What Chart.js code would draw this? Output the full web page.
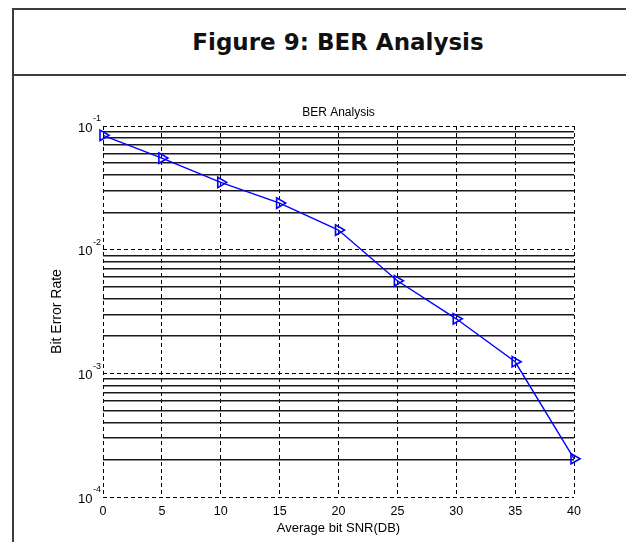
<!DOCTYPE html>
<html>
<head>
<meta charset="utf-8">
<script src="https://cdn.jsdelivr.net/npm/chart.js@4"></script>
<style>
  html, body { margin: 0; padding: 0; background: #fff; width: 626px; height: 542px; overflow: hidden; }
  #box { position: absolute; left: 12px; top: 8px; width: 650px; height: 600px;
         border-left: 2px solid #3c3c3c; border-top: 2px solid #3c3c3c; }
  #sep { position: absolute; left: 12px; top: 74px; width: 650px; height: 2px; background: #3c3c3c; }
  #head { position: absolute; left: 13px; top: 10px; width: 650px; height: 64px;
          text-align: center; font: bold 23px "DejaVu Sans", Verdana, sans-serif; line-height: 64px; color: #111; }
  #wrap { position: absolute; left: 20px; top: 78px; width: 590px; height: 464px; }
</style>
</head>
<body>
<div id="box"></div>
<div id="sep"></div>
<div id="head">Figure 9: BER Analysis</div>
<div id="wrap"><canvas id="myChart" width="590" height="464"></canvas></div>
<script>
const snr = [0, 5, 10, 15, 20, 25, 30, 35, 40];
const ber = [0.084, 0.055, 0.035, 0.0238, 0.0144, 0.0056, 0.00276, 0.00124, 0.000204];

const xTicks = [0, 5, 10, 15, 20, 25, 30, 35, 40];
const yDecades = [-4, -3, -2, -1];
const yMinor = [2, 3, 4, 5, 6, 7, 8, 9];

const FONT = '"Liberation Sans", Arial, sans-serif';

const isDecade = (v) => Math.abs(Math.log10(v) - Math.round(Math.log10(v))) < 1e-6;

// y tick labels drawn as 10 with a raised exponent
const powerLabels = {
  id: "powerLabels",
  afterDraw(chart) {
    const y = chart.scales.y;
    const c = chart.ctx;
    c.save();
    c.fillStyle = "#000";
    c.textBaseline = "middle";
    yDecades.forEach((e) => {
      const py = y.getPixelForValue(Math.pow(10, e));
      const exp = String(e);
      c.font = "9px " + FONT;
      const ew = c.measureText(exp).width;
      const right = chart.chartArea.left - 2;
      c.textAlign = "right";
      c.fillText(exp, right, py - 7);
      c.font = "13px " + FONT;
      c.fillText("10", right - ew - 0.5, py + 2);
    });
    c.restore();
  },
};

const ctx = document.getElementById("myChart").getContext("2d");

new Chart(ctx, {
  type: "line",
  data: {
    labels: snr,
    datasets: [
      {
        data: snr.map((x, i) => ({ x: x, y: ber[i] })),
        borderColor: "#0000ff",
        borderWidth: 1.4,
        pointStyle: "triangle",
        rotation: 90,
        pointRadius: 6,
        pointBorderWidth: 1.6,
        pointBorderColor: "#0000ff",
        pointBackgroundColor: "rgba(0,0,0,0)",
        tension: 0,
        clip: false,
      },
    ],
  },
  options: {
    responsive: false,
    animation: false,
    layout: { padding: { left: 0, right: 36, top: 0, bottom: 0 } },
    plugins: {
      legend: { display: false },
      tooltip: { enabled: false },
      title: {
        display: true,
        text: "BER Analysis",
        fullSize: false,
        color: "#000",
        font: { family: FONT, size: 12, weight: "normal" },
        padding: { top: 27, bottom: 6.6 },
      },
    },
    scales: {
      x: {
        type: "linear",
        min: 0,
        max: 40,
        afterBuildTicks: (scale) => {
          scale.ticks = xTicks.map((v) => ({ value: v }));
        },
        afterFit: (scale) => {
          scale.height = 45;
        },
        ticks: {
          color: "#000",
          font: { family: FONT, size: 12.5 },
          padding: 7,
          maxRotation: 0,
          autoSkip: false,
        },
        grid: { color: "#000", lineWidth: 1, drawTicks: false },
        border: { display: false, dash: [4, 3] },
        title: {
          display: true,
          text: "Average bit SNR(DB)",
          color: "#000",
          font: { family: FONT, size: 13 },
          padding: { top: 0, bottom: 6 },
        },
      },
      y: {
        type: "logarithmic",
        min: 1e-4,
        max: 1e-1,
        afterBuildTicks: (scale) => {
          const t = [];
          yDecades.forEach((e) => {
            t.push({ value: Math.pow(10, e), major: true });
            if (e < -1) {
              yMinor.forEach((m) => t.push({ value: m * Math.pow(10, e) }));
            }
          });
          scale.ticks = t;
        },
        afterFit: (scale) => {
          scale.width = 83;
        },
        ticks: {
          callback: () => "",
          padding: 3,
          autoSkip: false,
        },
        grid: {
          color: (c) => (c.tick && isDecade(c.tick.value) ? "#000" : "#1a1a1a"),
          lineWidth: (c) => (c.tick && isDecade(c.tick.value) ? 1 : 1.6),
          drawTicks: false,
        },
        border: {
          display: false,
          dash: (c) => (c.tick && isDecade(c.tick.value) ? [4, 3] : []),
        },
        title: {
          display: true,
          text: "Bit Error Rate",
          color: "#000",
          font: { family: FONT, size: 14 },
          padding: { top: 29, bottom: 0 },
        },
      },
    },
  },
  plugins: [powerLabels],
});
</script>
</body>
</html>
